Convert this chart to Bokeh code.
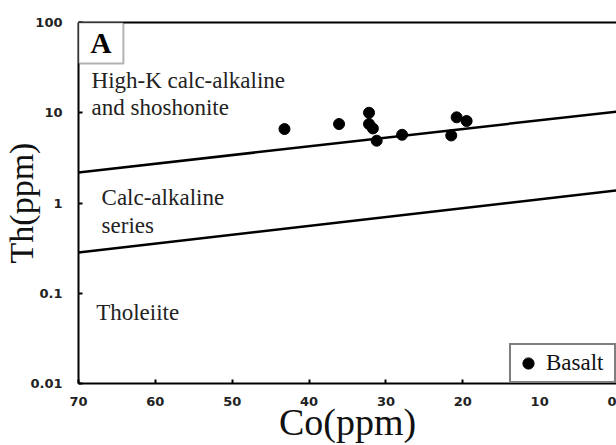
import numpy as np
from bokeh.plotting import figure
from bokeh.models import Range1d, FixedTicker, Label, BoxAnnotation, LinearAxis
from bokeh.embed import file_html
from bokeh.resources import INLINE

# Sample data (Co vs Th, ppm)
co = [43.2, 36.1, 32.2, 32.2, 31.7, 31.2, 27.9, 21.5, 20.8, 19.5]
th = [6.6, 7.5, 10.0, 7.5, 6.7, 4.9, 5.7, 5.6, 8.9, 8.1]

# Boundary lines
upper_co = [70, 0]
upper_th = [2.18, 10.3]
lower_co = [70, 0]
lower_th = [0.283, 1.38]

x_ticks = [70, 60, 50, 40, 30, 20, 10, 0]
y_ticks = [0.01, 0.1, 1, 10, 100]
y_tick_labels = ["0.01", "0.1", "1", "10", "100"]

field_texts = ["High-K calc-alkaline", "and shoshonite", "Calc-alkaline", "series", "Tholeiite"]
series_name = "Basalt"

p = figure(width=616, height=445,
           x_range=Range1d(70, 0), y_range=Range1d(0.01, 100),
           y_axis_type="log", output_backend="svg", toolbar_location=None,
           min_border_left=77, min_border_right=0, min_border_top=22, min_border_bottom=62)
p.grid.visible = False
p.outline_line_color = None
p.background_fill_color = "white"
p.border_fill_color = "white"

serif = "Liberation Serif"
tick_font = "DejaVu Sans"
for ax in (p.xaxis[0], p.yaxis[0]):
    ax.axis_line_width = 2
    ax.axis_line_color = "black"
    ax.major_tick_in = 4
    ax.major_tick_out = 0
    ax.major_tick_line_width = 2
    ax.major_tick_line_color = "black"
    ax.minor_tick_line_color = None
    ax.major_label_text_font = tick_font
    ax.major_label_text_font_style = "bold"
    ax.major_label_text_font_size = "13px"
    ax.major_label_text_color = "#222222"
    ax.axis_label_text_font = serif
    ax.axis_label_text_font_style = "normal"
    ax.axis_label_text_color = "#111111"

p.xaxis.ticker = FixedTicker(ticks=x_ticks)
p.xaxis.major_label_standoff = 13
p.xaxis.axis_label = "Co(ppm)"
p.xaxis.axis_label_text_font_size = "38px"
p.xaxis.axis_label_standoff = -8

p.yaxis.ticker = FixedTicker(ticks=y_ticks)
p.yaxis.major_label_overrides = {t: s for t, s in zip(y_ticks, y_tick_labels)}
p.yaxis.major_label_standoff = 16
p.yaxis.axis_label = "Th(ppm)"
p.yaxis.axis_label_text_font_size = "34px"
p.yaxis.axis_label_standoff = -13

top = LinearAxis(ticker=FixedTicker(ticks=[]), axis_line_width=2, axis_line_color="black",
                 major_tick_line_color=None, minor_tick_line_color=None,
                 major_label_text_font_size="0px")
p.add_layout(top, "above")

p.line(upper_co, upper_th, line_color="black", line_width=2.5)
p.line(lower_co, lower_th, line_color="black", line_width=2.5)

p.scatter(co, th, size=11, color="black", legend_label=series_name)

fs = "23px"
# Field labels (data coordinates)
for txt, xx, yy in [(field_texts[0], 68.3, 22.8), (field_texts[1], 68.3, 11.4),
                    (field_texts[2], 67.0, 1.15), (field_texts[3], 67.0, 0.564),
                    (field_texts[4], 67.7, 0.0612)]:
    p.add_layout(Label(x=xx, y=yy, text=txt, text_font=serif, text_font_size=fs,
                       text_align="left", text_baseline="middle", text_color="#222222"))

# Panel letter box
p.add_layout(BoxAnnotation(left=70, right=64.16, top=100, bottom=35.1,
                           fill_color="white", fill_alpha=1, line_color="black", line_width=2))
p.add_layout(Label(x=67.08, y=59.3, text="A", text_font=serif, text_font_style="bold",
                   text_font_size="29px", text_align="center", text_baseline="middle",
                   text_color="black"))

lg = p.legend[0]
lg.location = "bottom_right"
lg.margin = 0
lg.padding = 3
lg.spacing = 0
lg.glyph_width = 28
lg.glyph_height = 30
lg.label_height = 30
lg.label_width = 65
lg.label_standoff = 4
lg.label_text_font = serif
lg.label_text_font_size = "23px"
lg.label_text_color = "#111111"
lg.border_line_color = "black"
lg.border_line_width = 2
lg.background_fill_color = "white"
lg.background_fill_alpha = 1

open("out.html", "w").write(file_html(p, INLINE))
